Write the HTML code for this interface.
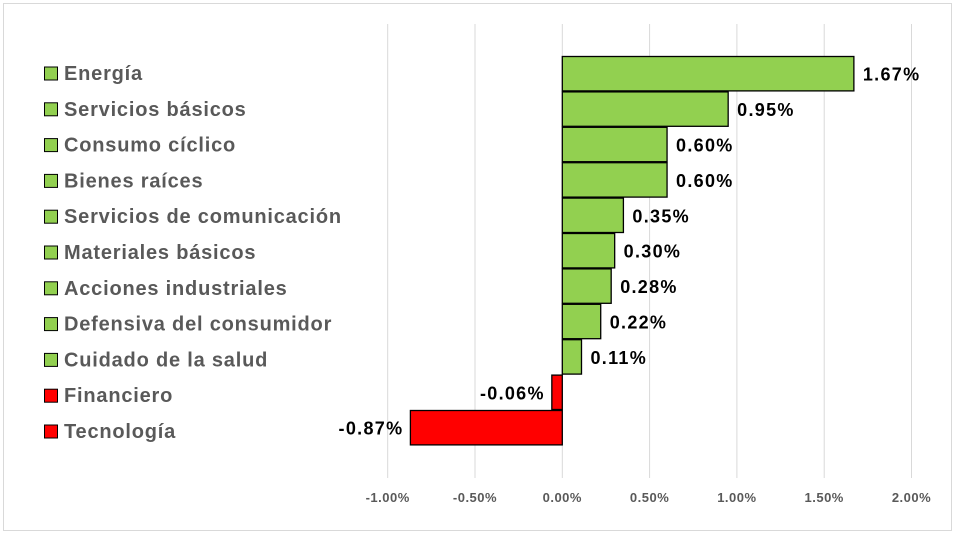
<!DOCTYPE html>
<html><head><meta charset="utf-8"><style>
body{margin:0;background:#fff}
svg{display:block;font-family:"Liberation Sans",sans-serif;font-weight:bold}
</style></head><body>
<svg width="956" height="535">
<rect x="3.5" y="3.5" width="948" height="527" fill="#fff" stroke="#d9d9d9"/>
<g id="grid"></g>
<g id="bars"></g>
<g id="labels"></g>
<g id="legend"></g>
<g id="ticks"></g>
</svg>
<script>
const categories=["Energía","Servicios básicos","Consumo cíclico","Bienes raíces","Servicios de comunicación","Materiales básicos","Acciones industriales","Defensiva del consumidor","Cuidado de la salud","Financiero","Tecnología"];
const values=[1.67,0.95,0.60,0.60,0.35,0.30,0.28,0.22,0.11,-0.06,-0.87];
const tickValues=[-1,-0.5,0,0.5,1,1.5,2];
const tickLabels=["-1.00%","-0.50%","0.00%","0.50%","1.00%","1.50%","2.00%"];
const NS="http://www.w3.org/2000/svg";
const x=v=>562.3+v*174.6;
const band=35.4, top0=56;
const y=i=>top0+i*band;
const ly=i=>73+i*35.8;
function mk(t,a,p){const e=document.createElementNS(NS,t);for(const k in a)e.setAttribute(k,a[k]);p.appendChild(e);return e;}
const g=document.getElementById('grid'),b=document.getElementById('bars'),l=document.getElementById('labels'),lg=document.getElementById('legend'),tk=document.getElementById('ticks');
tickValues.forEach((v,i)=>{
 const ln=mk('line',{x1:x(v),x2:x(v),y1:24,y2:478,stroke:'#d9d9d9','stroke-width':1},g);
 
 
 const t=mk('text',{x:x(v),y:502,'text-anchor':'middle','font-size':13,'letter-spacing':0.5,fill:'#595959'},tk);
 t.textContent=tickLabels[i];
 
 
});
values.forEach((v,i)=>{
 const c=v>=0?'#92d050':'#ff0000';
 const x0=Math.min(x(0),x(v)),w=Math.abs(x(v)-x(0));
 const r=mk('rect',{x:x0,y:y(i)+0.5,width:w,height:band-1,fill:c,stroke:'#000','stroke-width':1.3},b);
 
 
 const t=mk('text',{x:v>=0?x(v)+9:x(v)-7,y:y(i)+band/2+7,'text-anchor':v>=0?'start':'end','font-size':18,'letter-spacing':1.3,fill:'#000'},l);
 t.textContent=v.toFixed(2)+'%';
 
 
 const sq=mk('rect',{x:44.5,y:ly(i)-6,width:13,height:13,fill:c,stroke:'#000','stroke-width':1},lg);
 
 
 const lt=mk('text',{x:64,y:ly(i)+7,'font-size':20,'letter-spacing':0.8,fill:'#595959'},lg);
 lt.textContent=categories[i];
 
 
});
</script>
</body></html>
